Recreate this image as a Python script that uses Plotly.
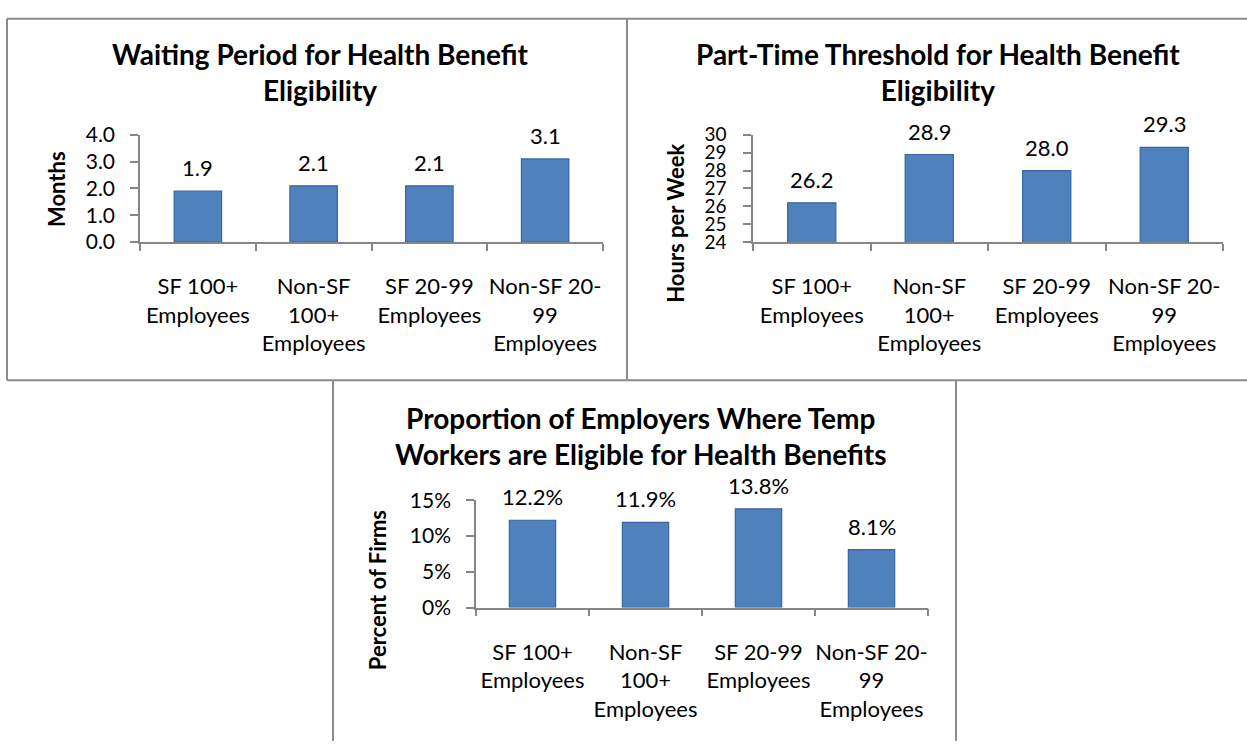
import plotly.graph_objects as go

W, H = 1247, 750

categories = ["SF 100+<br>Employees", "Non-SF<br>100+<br>Employees",
              "SF 20-99<br>Employees", "Non-SF 20-<br>99<br>Employees"]
cat_keys = ["SF 100+", "Non-SF 100+", "SF 20-99", "Non-SF 20-99"]

waiting_months = [1.9, 2.1, 2.1, 3.1]
parttime_hours = [26.2, 28.9, 28.0, 29.3]
temp_percent = [12.2, 11.9, 13.8, 8.1]

waiting_ticks = [0, 1, 2, 3, 4]
waiting_ticktext = ["0.0", "1.0", "2.0", "3.0", "4.0"]
hours_ticks = [24, 25, 26, 27, 28, 29, 30]
hours_ticktext = ["24", "25", "26", "27", "28", "29", "30"]
percent_ticks = [0, 5, 10, 15]
percent_ticktext = ["0%", "5%", "10%", "15%"]

titles = ["Waiting Period for Health Benefit<br>Eligibility",
          "Part-Time Threshold for Health Benefit<br>Eligibility",
          "Proportion of Employers Where Temp<br>Workers are Eligible for Health Benefits"]
ytitles = ["Months", "Hours per Week", "Percent of Firms"]

FONT = "Lato"
BAR = "#4F81BD"
BAR_EDGE = "#3A64A0"
AXIS = "#868686"
BORDER = "#8C8C8C"

def px_x(x):
    return x / W

def px_y(y):
    return 1 - y / H

fig = go.Figure()

series = [
    (waiting_months, "x", "y", lambda v: f"{v:.1f}"),
    (parttime_hours, "x2", "y2", lambda v: f"{v:.1f}"),
    (temp_percent, "x3", "y3", lambda v: f"{v:.1f}%"),
]

for vals, xa, ya, fmt in series:
    fig.add_trace(go.Bar(
        x=cat_keys, y=vals, xaxis=xa, yaxis=ya,
        marker=dict(color=BAR, line=dict(color=BAR_EDGE, width=1.2)),
        width=0.41, showlegend=False, hoverinfo="skip",
    ))
    for c, v in zip(cat_keys, vals):
        fig.add_annotation(x=c, y=v, xref=xa, yref=ya, text=fmt(v),
                           showarrow=False, yanchor="bottom", yshift=8,
                           font=dict(family=FONT, size=22, color="#000"))

# plot area geometry (pixels)
areas = [
    dict(x0=140, x1=603, y0=125, y1=236),
    dict(x0=753, x1=1223, y0=125, y1=236),
    dict(x0=476, x1=928, y0=503, y1=614),
]

xcommon = dict(type="category", showline=True, linecolor=AXIS, linewidth=1.5,
               ticks="outside", tickson="boundaries", ticklen=7, tickcolor=AXIS,
               tickwidth=1.5, showgrid=False, zeroline=False, fixedrange=True,
               tickvals=cat_keys, ticktext=categories, tickangle=0,
               tickfont=dict(family=FONT, size=22, color="#000"),
               ticklabelstandoff=24)
ycommon = dict(showline=True, linecolor=AXIS, linewidth=1.5, ticks="outside",
               ticklen=8, tickcolor=AXIS, tickwidth=1.5, showgrid=False,
               zeroline=False, fixedrange=True,
               ticklabelstandoff=11)

yspecs = [
    dict(range=[0, 4], tickvals=waiting_ticks, ticktext=waiting_ticktext,
         tickfont=dict(family=FONT, size=21, color="#000")),
    dict(range=[24, 30], tickvals=hours_ticks, ticktext=hours_ticktext,
         tickfont=dict(family=FONT, size=19, color="#000"), ticklabelstandoff=13),
    dict(range=[0, 15], tickvals=percent_ticks, ticktext=percent_ticktext,
         tickfont=dict(family=FONT, size=21, color="#000")),
]

layout = {}
for i, (a, ys) in enumerate(zip(areas, yspecs)):
    sfx = "" if i == 0 else str(i + 1)
    layout["xaxis" + sfx] = dict(xcommon, domain=[px_x(a["x0"]), px_x(a["x1"])],
                                 anchor="y" + sfx, range=[-0.5, 3.5])
    yd = dict(ycommon)
    yd.update(ys)
    yd.update(domain=[px_y(a["y1"]), px_y(a["y0"])], anchor="x" + sfx)
    layout["yaxis" + sfx] = yd

fig.update_layout(**layout)

# titles
title_pos = [(320, 60), (938, 60), (641, 437)]
for t, (cx, cy) in zip(titles, title_pos):
    fig.add_annotation(x=px_x(cx), y=px_y(cy), xref="paper", yref="paper",
                       text="<b>" + t + "</b>", showarrow=False,
                       xanchor="center", yanchor="middle", align="center",
                       font=dict(family=FONT, size=28, color="#000"))

ytitle_pos = [(57, 181), (676, 217), (377, 596)]
for t, (cx, cy) in zip(ytitles, ytitle_pos):
    fig.add_annotation(x=px_x(cx), y=px_y(cy), xref="paper", yref="paper",
                       text="<b>" + t + "</b>", showarrow=False, textangle=-90,
                       xanchor="center", yanchor="middle",
                       font=dict(family=FONT, size=22, color="#000"))

# panel borders
def line(x0, y0, x1, y1):
    fig.add_shape(type="line", xref="paper", yref="paper",
                  x0=px_x(x0), y0=px_y(y0), x1=px_x(x1), y1=px_y(y1),
                  line=dict(color=BORDER, width=2))

line(7, 5, 1250, 5)
line(7, 5, 7, 379)
line(627, 5, 627, 379)
line(7, 379, 1250, 379)
line(333, 379, 333, 752)
line(956, 379, 956, 752)

fig.update_layout(width=W, height=H, margin=dict(l=0, r=0, t=0, b=0),
                  paper_bgcolor="white", plot_bgcolor="white",
                  font=dict(family=FONT, color="#000"), bargap=0.58)

fig.write_html("out.html")
